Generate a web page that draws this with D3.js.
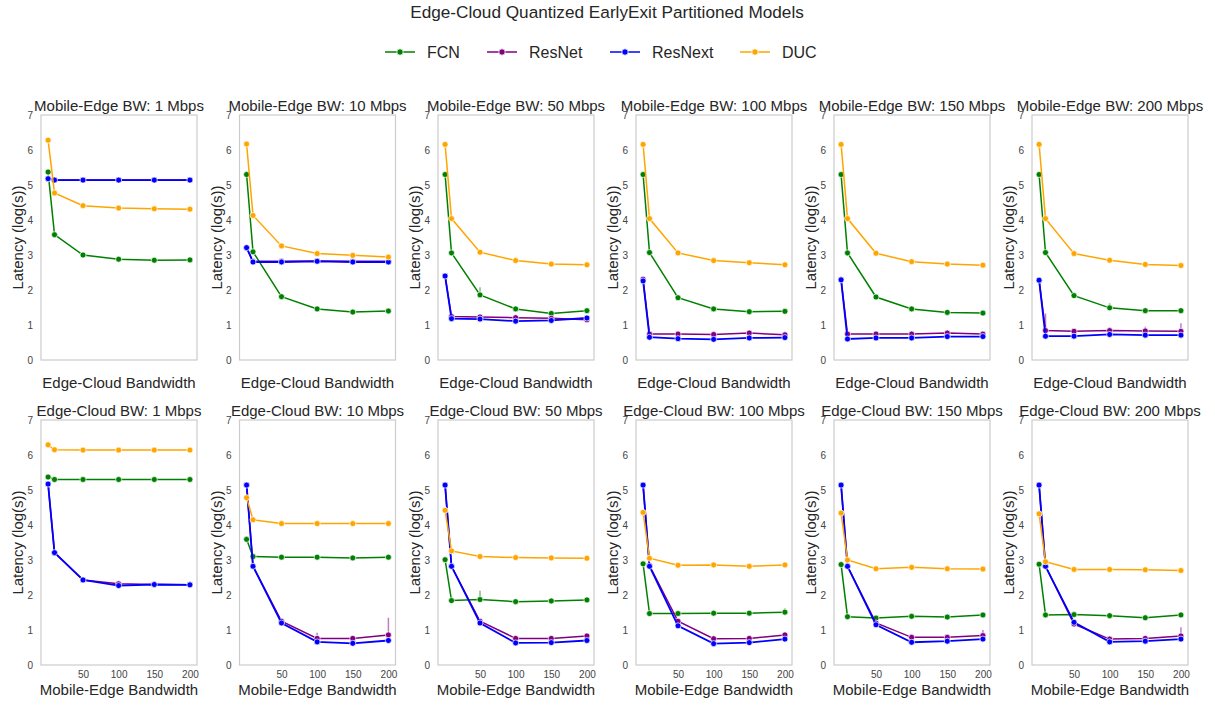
<!DOCTYPE html>
<html><head><meta charset="utf-8">
<script src="https://cdn.jsdelivr.net/npm/d3@7"></script>
<style>body{margin:0;background:#fff;} text{font-family:"Liberation Sans",Arial,sans-serif;}</style>
</head><body>
<svg id="c" width="1215" height="705"></svg>
<script>
const bandwidths = [1, 10, 50, 100, 150, 200];
const seriesNames = ["FCN", "ResNet", "ResNext", "DUC"];
const seriesColors = ["green", "purple", "blue", "orange"];
const yTicks = [0, 1, 2, 3, 4, 5, 6, 7];
const xTicks = [50, 100, 150, 200];

// Top row: fixed Mobile-Edge BW, x = Edge-Cloud BW
const topTitles = ["Mobile-Edge BW: 1 Mbps","Mobile-Edge BW: 10 Mbps","Mobile-Edge BW: 50 Mbps","Mobile-Edge BW: 100 Mbps","Mobile-Edge BW: 150 Mbps","Mobile-Edge BW: 200 Mbps"];
const topFCN = [
  [5.37,3.58,3.00,2.88,2.85,2.86],
  [5.30,3.09,1.81,1.46,1.37,1.40],
  [5.30,3.06,1.86,1.46,1.33,1.41],
  [5.30,3.07,1.78,1.46,1.38,1.39],
  [5.30,3.06,1.80,1.46,1.36,1.34],
  [5.30,3.07,1.84,1.49,1.41,1.41]];
const topResNet = [
  [5.18,5.14,5.14,5.14,5.14,5.14],
  [3.21,2.82,2.82,2.83,2.82,2.82],
  [2.40,1.24,1.23,1.21,1.19,1.15],
  [2.31,0.74,0.74,0.73,0.77,0.72],
  [2.29,0.74,0.74,0.74,0.77,0.74],
  [2.28,0.84,0.82,0.84,0.83,0.82]];
const topResNext = [
  [5.18,5.14,5.14,5.14,5.14,5.14],
  [3.21,2.80,2.80,2.82,2.80,2.80],
  [2.40,1.18,1.17,1.11,1.13,1.20],
  [2.26,0.65,0.61,0.59,0.63,0.64],
  [2.29,0.60,0.63,0.63,0.67,0.67],
  [2.28,0.68,0.68,0.73,0.71,0.71]];
const topDUC = [
  [6.28,4.77,4.41,4.34,4.32,4.31],
  [6.17,4.13,3.26,3.04,2.99,2.94],
  [6.16,4.04,3.08,2.84,2.74,2.72],
  [6.16,4.04,3.06,2.84,2.78,2.72],
  [6.16,4.04,3.05,2.81,2.74,2.71],
  [6.16,4.04,3.04,2.85,2.73,2.70]];

// Bottom row: fixed Edge-Cloud BW, x = Mobile-Edge BW
const botTitles = ["Edge-Cloud BW: 1 Mbps","Edge-Cloud BW: 10 Mbps","Edge-Cloud BW: 50 Mbps","Edge-Cloud BW: 100 Mbps","Edge-Cloud BW: 150 Mbps","Edge-Cloud BW: 200 Mbps"];
const botFCN = [
  [5.37,5.30,5.30,5.30,5.30,5.30],
  [3.59,3.10,3.08,3.08,3.06,3.08],
  [3.01,1.84,1.87,1.81,1.83,1.86],
  [2.89,1.47,1.47,1.48,1.48,1.51],
  [2.87,1.38,1.34,1.39,1.37,1.43],
  [2.88,1.43,1.44,1.41,1.35,1.43]];
const botResNet = [
  [5.17,3.21,2.43,2.32,2.30,2.29],
  [5.14,2.82,1.25,0.76,0.76,0.86],
  [5.14,2.82,1.25,0.76,0.76,0.83],
  [5.14,2.84,1.25,0.75,0.76,0.86],
  [5.14,2.82,1.20,0.79,0.79,0.84],
  [5.14,2.82,1.17,0.74,0.76,0.83]];
const botResNext = [
  [5.17,3.21,2.43,2.27,2.30,2.29],
  [5.14,2.82,1.20,0.66,0.62,0.70],
  [5.14,2.82,1.20,0.63,0.64,0.70],
  [5.14,2.82,1.12,0.61,0.64,0.74],
  [5.14,2.82,1.15,0.65,0.68,0.74],
  [5.14,2.82,1.22,0.66,0.68,0.74]];
const botDUC = [
  [6.29,6.15,6.14,6.14,6.14,6.14],
  [4.78,4.15,4.04,4.04,4.04,4.04],
  [4.42,3.26,3.10,3.07,3.06,3.05],
  [4.36,3.05,2.85,2.86,2.82,2.86],
  [4.34,3.00,2.75,2.79,2.75,2.74],
  [4.32,2.95,2.73,2.73,2.72,2.70]];

// Confidence-interval whiskers: [row, panel, seriesIndex, bandwidth, low, high]
const ciBars = [
  [0,1,0,150,1.30,1.42],[0,1,0,200,1.36,1.45],
  [0,2,0,50,1.80,2.08],
  [0,3,0,150,1.33,1.42],[0,3,1,1,2.26,2.35],
  [0,5,1,10,0.80,1.33],[0,5,0,100,1.45,1.62],[0,5,1,150,0.78,0.95],[0,5,1,200,0.78,1.05],
  [1,1,1,100,0.70,0.92],[1,1,1,200,0.80,1.35],
  [1,2,0,50,1.80,2.12],[1,2,0,150,1.78,1.88],
  [1,3,0,200,1.45,1.62],
  [1,4,0,100,1.33,1.46],[1,4,0,150,1.32,1.44],[1,4,1,200,0.80,1.00],
  [1,5,1,200,0.78,1.08]
];

const svg = d3.select("#c");
const FONT = "Liberation Sans, Arial, sans-serif";
const panelLefts = [41, 239.5, 438, 636, 834, 1032];
const panelW = 156;
const rowTops = [115, 420];
const panelH = 245;

svg.append("text").attr("x", 607).attr("y", 18).attr("text-anchor","middle")
  .attr("font-size", 17.2).attr("fill","#262626").text("Edge-Cloud Quantized EarlyExit Partitioned Models");

// legend
const legendX = [385, 487, 610, 740];
seriesNames.forEach((n,i)=>{
  const g = svg.append("g").attr("transform",`translate(${legendX[i]},52)`);
  g.append("line").attr("x1",0).attr("x2",30).attr("y1",0).attr("y2",0).attr("stroke",seriesColors[i]).attr("stroke-width",1.5);
  g.append("circle").attr("cx",15).attr("cy",0).attr("r",3.2).attr("fill",seriesColors[i]).attr("stroke","#fff").attr("stroke-width",0.8);
  g.append("text").attr("x",42).attr("y",6).attr("font-size",16).attr("fill","#262626").text(n);
});

const rows = [
  {titles: topTitles, data: [topFCN, topResNet, topResNext, topDUC], xlabel: "Edge-Cloud Bandwidth", showX: false, xlabDy: 28},
  {titles: botTitles, data: [botFCN, botResNet, botResNext, botDUC], xlabel: "Mobile-Edge Bandwidth", showX: true, xlabDy: 30}
];

rows.forEach((row, r)=>{
  for (let p=0; p<6; p++){
    const x0 = panelLefts[p], y0 = rowTops[r];
    const x = d3.scaleLinear().domain([-8.95, 209.95]).range([x0, x0+panelW]);
    const y = d3.scaleLinear().domain([0,7]).range([y0+panelH, y0]);
    const g = svg.append("g");
    const ya = g.append("g").attr("transform",`translate(${x0},0)`)
      .call(d3.axisLeft(y).tickValues(yTicks).tickSize(0).tickPadding(8).tickFormat(d3.format("d")));
    ya.select(".domain").remove();
    ya.selectAll("text").attr("font-size",10).attr("fill","#444").attr("font-family",FONT);
    if (row.showX){
      const xa = g.append("g").attr("transform",`translate(0,${y0+panelH})`)
        .call(d3.axisBottom(x).tickValues(xTicks).tickSize(0).tickPadding(6).tickFormat(d3.format("d")));
      xa.select(".domain").remove();
      xa.selectAll("text").attr("font-size",10).attr("fill","#444").attr("font-family",FONT);
    }
    g.append("rect").attr("x",x0).attr("y",y0).attr("width",panelW).attr("height",panelH)
      .attr("fill","none").attr("stroke","#cccccc").attr("stroke-width",1.2);
    g.append("text").attr("x",x0+panelW/2).attr("y",y0-4).attr("text-anchor","middle")
      .attr("font-size",15).attr("fill","#262626").text(row.titles[p]);
    g.append("text").attr("transform",`translate(${x0-18},${y0+panelH/2}) rotate(-90)`)
      .attr("text-anchor","middle").attr("font-size",15).attr("fill","#262626").text("Latency (log(s))");
    g.append("text").attr("x",x0+panelW/2).attr("y", y0+panelH+row.xlabDy).attr("text-anchor","middle")
      .attr("font-size",15).attr("fill","#262626").text(row.xlabel);
    ciBars.filter(c=>c[0]===r && c[1]===p).forEach(c=>{
      g.append("line").attr("x1",x(c[3])).attr("x2",x(c[3])).attr("y1",y(c[4])).attr("y2",y(c[5]))
        .attr("stroke",seriesColors[c[2]]).attr("stroke-opacity",0.5).attr("stroke-width",1.5);
    });
    row.data.forEach((s,si)=>{
      const vals = s[p];
      const pts = bandwidths.map((b,i)=>[b, vals[i]]);
      const line = d3.line().x(d=>x(d[0])).y(d=>y(d[1]));
      g.append("path").datum(pts).attr("d",line).attr("fill","none")
        .attr("stroke",seriesColors[si]).attr("stroke-width", si===2 ? 1.8 : 1.5);
      g.selectAll(null).data(pts).enter().append("circle")
        .attr("cx",d=>x(d[0])).attr("cy",d=>y(d[1])).attr("r",3)
        .attr("fill",seriesColors[si]).attr("stroke","#fff").attr("stroke-width",0.7);
    });
  }
});
</script>
</body></html>
